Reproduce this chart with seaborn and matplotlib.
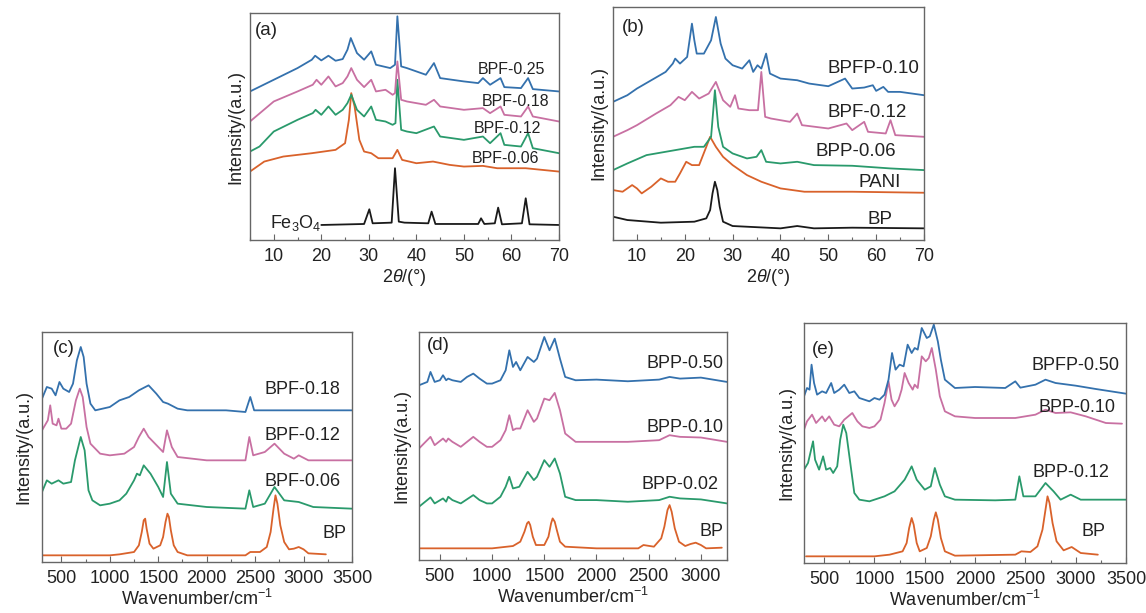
import seaborn as sns
import matplotlib
matplotlib.use('Agg')
import matplotlib.pyplot as plt
from matplotlib.ticker import MultipleLocator

# ---- panel (a): XRD ----
a_bpf025_x = [5, 10, 15, 18, 18.7, 20, 21.5, 23, 24.5, 25.5, 26.2, 27.5, 29, 30.5, 31.5, 33, 34.5, 35.5, 36, 36.8, 38, 40, 42, 43.7, 45, 50, 53, 54, 55.5, 57.7, 58.5, 62, 63.5, 64.5, 70]
a_bpf025_y = [44.5, 48, 51.5, 54, 55.2, 53.8, 55.2, 53.7, 54.2, 57, 60.5, 56, 54, 56.5, 52.5, 52, 51.5, 52.5, 67, 52, 51.5, 50.5, 49.5, 53, 48.5, 47.5, 47, 48.5, 46.5, 48.5, 45.8, 45.5, 48.5, 45.2, 44.5]
a_bpf018_x = [5, 10, 15, 18.2, 19, 20, 21.5, 23, 24.5, 25.5, 26.3, 27.5, 29, 30.5, 31.5, 33.5, 35, 35.5, 36, 36.8, 38, 40, 42, 43.7, 45, 50, 54, 55.5, 57.7, 58.5, 62, 63.5, 64.5, 70]
a_bpf018_y = [35.5, 41.5, 44.5, 46.5, 48, 46.5, 49, 46, 47, 49, 51.5, 48, 45.8, 48, 44.5, 45, 43.5, 44, 53.5, 42, 41.5, 41, 40.5, 42, 40, 39, 39.5, 38, 40, 37.5, 37, 40, 37, 35.5]
a_bpf012_x = [5, 7, 10, 15, 18.2, 18.8, 20, 21.5, 23, 24.5, 25.5, 26.3, 27.5, 29, 30.5, 31.5, 33.5, 35, 35.6, 36, 36.8, 38, 40, 43.7, 45, 50, 54, 55.5, 57.7, 58.5, 62, 63.5, 64.5, 70]
a_bpf012_y = [26.5, 28, 32.5, 36, 38, 39, 37.5, 40, 37.5, 39, 41, 43.5, 39, 37, 40, 36, 35.5, 34.5, 35, 48, 33, 32.5, 32, 34, 31, 30, 31, 29, 32, 28.5, 28, 32, 27.5, 26]
a_bpf006_x = [5, 8, 12, 18, 23, 25, 25.8, 26.3, 27, 28, 29, 30.5, 32, 35, 36, 37, 40, 43.5, 47, 50, 54, 57, 63, 70]
a_bpf006_y = [20.5, 23.5, 25, 26, 27, 29, 36, 44, 40, 30, 26.5, 26, 24.5, 24.5, 27, 24, 23, 23.5, 22.5, 22, 22.2, 21.5, 21.5, 20.5]
a_fe3o4_x = [20, 29, 30.1, 30.8, 34.8, 35.5, 36.3, 37.5, 42.5, 43.2, 44, 53, 53.6, 54.3, 56.5, 57.2, 58, 62.2, 63, 63.8, 70]
a_fe3o4_y = [4.5, 4.8, 9.2, 5, 5.2, 21.5, 5.5, 5.2, 5, 8.5, 4.8, 4.8, 6.5, 4.8, 5, 9.7, 4.7, 5, 12.5, 4.7, 4.5]

# ---- panel (b): XRD ----
b_bpfp010_x = [5, 8, 10, 13, 16, 17.5, 18, 19, 20.5, 21, 21.5, 22, 22.5, 24, 25.5, 26.5, 27.5, 28.5, 30, 32, 33.5, 34.3, 35.2, 36, 37, 37.8, 40, 43.5, 46, 50, 53.5, 55, 57.5, 59.3, 60, 61.5, 62.5, 65, 70]
b_bpfp010_y = [41.5, 43.5, 45.5, 48, 50.5, 53, 54.5, 53, 55, 60, 65, 60, 56, 56, 60, 67, 59, 54.5, 52.5, 51.5, 54, 50.5, 52.5, 51.5, 56, 50, 48.5, 48, 47, 46.2, 48.5, 45.5, 45.8, 46.5, 44.8, 46, 44.5, 44.5, 43.5]
b_bpf012_x = [5, 8, 10, 14, 17, 18.7, 20, 21.5, 23, 25, 26.5, 28, 29.5, 30.5, 31.2, 33.5, 35.3, 36, 36.8, 38, 42, 43.5, 44.5, 50, 53.8, 55, 57.5, 58.3, 62, 63, 64, 70]
b_bpf012_y = [31, 33, 34.5, 38, 40.5, 43, 42, 44.5, 42.5, 44, 47.5, 42, 40, 43.5, 39.5, 39, 39, 50.5, 37, 36.5, 35.5, 38, 34.5, 33.5, 35, 33, 35.5, 32.5, 32, 36, 31.5, 31]
b_bpp006_x = [5, 8, 12, 18, 22, 24, 25.5, 26.3, 27, 28, 30, 33, 35, 36, 37, 40, 43.5, 47, 55, 63, 70]
b_bpp006_y = [21, 23, 25.5, 27, 28, 28, 31, 45, 34, 28, 26, 24.5, 25, 27, 23.5, 23, 23.5, 22.5, 22.3, 21.5, 21]
b_pani_x = [5, 7, 9, 10, 11, 13, 15, 16.5, 18, 19, 20.3, 21.5, 23, 24.5, 25.3, 26.5, 28, 30, 33, 36, 40, 45, 55, 70]
b_pani_y = [15, 14.5, 16.5, 15.5, 14, 16, 18.5, 17.5, 17.5, 20, 23.5, 22.5, 22.5, 28, 31, 28, 25, 22.5, 19.5, 17.5, 15.5, 14.5, 14.5, 14.2]
b_bp_x = [5, 8, 15, 22, 24.5, 25.3, 25.8, 26.3, 26.8, 27.3, 28, 30, 40, 43.5, 47, 55, 70]
b_bp_y = [7, 6, 5.2, 5.5, 6.5, 9, 14, 17.5, 15, 10, 5.5, 4.2, 3.5, 4.2, 3.5, 3.7, 3.5]

# ---- panel (c): Raman ----
c_bpf018_x = [300, 350, 400, 440, 480, 520, 580, 620, 660, 700, 730, 760, 800, 850, 1000, 1100, 1200, 1300, 1400, 1480, 1550, 1600, 1700, 1800, 2200, 2400, 2450, 2490, 2600, 3000, 3500]
c_bpf018_y = [49, 52.5, 52, 50, 54, 52, 51, 53.5, 60.5, 64.5, 61.5, 53.5, 47.5, 45.5, 46.5, 48.5, 49.5, 51.5, 53, 50.5, 48, 47.5, 46, 45.5, 45.5, 45, 49.5, 45.5, 45.5, 45.5, 45.5]
c_bpf012_x = [300, 360, 385, 410, 450, 470, 500, 550, 600, 650, 690, 720, 760, 800, 900, 1000, 1150, 1250, 1300, 1350, 1400, 1500, 1550, 1590, 1640, 1700, 2000, 2400, 2440, 2480, 2600, 2700, 2800, 2900, 2950, 3050, 3500]
c_bpf012_y = [39.5, 42.5, 47, 41.5, 41, 43, 40, 40, 41.5, 48.5, 52, 49.5, 40.5, 35.5, 32.5, 32, 32.5, 34.5, 37.5, 40, 37.5, 34.5, 33, 39.5, 34.5, 31.5, 30.5, 30.5, 37.5, 32, 33, 35.5, 32.5, 31, 32, 30.5, 30.5]
c_bpf006_x = [300, 350, 400, 470, 520, 600, 640, 700, 740, 780, 820, 900, 1000, 1100, 1170, 1250, 1280, 1310, 1350, 1420, 1500, 1550, 1590, 1630, 1700, 2000, 2400, 2440, 2480, 2600, 2700, 2800, 2950, 3100, 3500]
c_bpf006_y = [21, 24.5, 23.5, 24.5, 23.5, 24, 30.5, 37.5, 33.5, 21.5, 18.5, 17, 17.5, 18.5, 20.5, 24.5, 26.5, 26, 29, 26.5, 22.5, 19.5, 30, 20.5, 17.5, 16.5, 16, 21.5, 16.5, 17.5, 22.5, 18.5, 18, 16.5, 16]
c_bp_x = [300, 1000, 1100, 1250, 1300, 1330, 1350, 1365, 1380, 1410, 1450, 1520, 1550, 1575, 1595, 1610, 1630, 1660, 1700, 1800, 2400, 2450, 2550, 2620, 2660, 2690, 2710, 2730, 2760, 2800, 2850, 2900, 2950, 3000, 3050, 3230]
c_bp_y = [2, 2, 2.3, 3, 5, 9, 12.5, 13, 10, 5.5, 4, 5, 7.5, 12, 14.5, 13.5, 9.5, 5, 3, 2, 2, 3, 3, 4.5, 9, 16, 20, 17.5, 11, 6, 3.8, 4, 4.5, 3.8, 2.6, 2.3]

# ---- panel (d): Raman ----
d_bpp050_x = [300, 380, 410, 450, 500, 530, 560, 580, 620, 700, 760, 820, 880, 950, 1000, 1080, 1130, 1165, 1200, 1230, 1270, 1340, 1400, 1430, 1500, 1550, 1600, 1650, 1700, 1800, 2000, 2300, 2600, 2700, 2800, 3000, 3250]
d_bpp050_y = [52.5, 53.5, 56.5, 53.5, 54, 55.5, 54, 54.5, 54, 53.5, 55, 56, 54.5, 53, 53, 54, 57, 63, 58, 59.5, 57, 61, 59.5, 60.5, 67, 63, 66.5, 60.5, 55, 54, 54.2, 53.7, 54.2, 55, 54.5, 54.8, 53.5]
d_bpp010_x = [300, 410, 450, 530, 560, 580, 620, 700, 760, 820, 880, 950, 1000, 1080, 1130, 1165, 1200, 1230, 1270, 1340, 1400, 1430, 1500, 1550, 1600, 1650, 1700, 1800, 2000, 2300, 2600, 2700, 2800, 3000, 3250]
d_bpp010_y = [33.5, 37, 34.5, 36.5, 35.5, 36.5, 35.5, 34, 35.5, 37, 35.5, 34, 34, 36, 39, 43.5, 39, 39.5, 39.5, 45, 41.5, 42.5, 48.5, 48, 50.2, 45, 38, 35.5, 35.5, 35.5, 36, 37.5, 37, 36.8, 35.5]
d_bpp002_x = [300, 410, 450, 530, 560, 580, 620, 700, 820, 880, 950, 1000, 1080, 1130, 1165, 1200, 1260, 1340, 1400, 1430, 1500, 1550, 1600, 1650, 1700, 1800, 2000, 2300, 2600, 2700, 2800, 3000, 3250]
d_bpp002_y = [16, 18.8, 17, 18.5, 17.5, 19, 18, 17, 19.5, 18, 17, 17, 19, 22, 25, 21.5, 22, 26.5, 24, 25, 30, 28, 30.5, 26, 19, 18, 18, 17.5, 18, 19, 18.5, 18.2, 17]
d_bp_x = [300, 1000, 1200, 1270, 1310, 1335, 1350, 1365, 1390, 1420, 1500, 1540, 1565, 1580, 1600, 1620, 1650, 1700, 2000, 2400, 2450, 2550, 2620, 2650, 2680, 2700, 2720, 2750, 2790, 2850, 2900, 2950, 3000, 3050, 3200]
d_bp_y = [3.5, 3.5, 4.2, 5.5, 8.5, 11, 11.5, 10.5, 7, 4.5, 4.5, 7, 11, 12.5, 11.5, 9, 5.5, 4, 3.5, 3.5, 4.5, 4, 6.5, 10, 15, 16.5, 14.5, 9.5, 5.5, 4.2, 4.8, 5.2, 4.5, 3.5, 3.7]

# ---- panel (e): Raman ----
e_bpfp050_x = [300, 330, 355, 375, 400, 430, 480, 520, 570, 600, 650, 700, 750, 800, 850, 950, 1000, 1050, 1100, 1140, 1175, 1210, 1250, 1290, 1330, 1370, 1400, 1430, 1470, 1520, 1550, 1590, 1630, 1660, 1700, 1800, 2000, 2300, 2400, 2450, 2600, 2700, 2800, 3000, 3200, 3500]
e_bpfp050_y = [50, 52.5, 52, 59.5, 54, 50.5, 51.5, 51, 54, 51, 52, 53.5, 51, 51.5, 49.5, 48.5, 49.5, 49, 50.5, 55, 63, 58, 59.5, 59, 65.5, 63, 64.5, 64, 70.5, 67.5, 68, 71.5, 66.5, 61, 55, 52.5, 52.8, 52.5, 54.5, 52.6, 53.5, 55, 54, 53.2, 52.2, 50.8]
e_bpp010_x = [300, 330, 380, 420, 480, 510, 550, 600, 650, 700, 780, 830, 880, 950, 1000, 1060, 1100, 1140, 1170, 1200, 1240, 1270, 1300, 1340, 1380, 1400, 1430, 1470, 1510, 1540, 1570, 1610, 1650, 1700, 1800, 2000, 2400, 2600, 2700, 2800, 2950, 3100, 3300, 3460]
e_bpp010_y = [40, 42.5, 44.5, 42, 44, 42.5, 44, 41.5, 41, 43, 45, 42.5, 41, 40.5, 41, 43, 48, 54.5, 49, 47, 49, 52, 57, 54, 52, 53.5, 52.5, 62, 60.5, 61.5, 64.5, 58, 50, 45.5, 44, 43.5, 43.5, 44.5, 46, 45, 45.2, 44, 42, 41.8]
e_bpp012_x = [300, 340, 390, 410, 450, 490, 520, 560, 590, 630, 660, 690, 720, 760, 800, 850, 950, 1100, 1200, 1300, 1370, 1420, 1500, 1560, 1600, 1650, 1700, 1800, 2200, 2400, 2440, 2480, 2600, 2700, 2780, 2850, 2950, 3050, 3500]
e_bpp012_y = [28, 30, 36.5, 31, 28, 32, 28, 28.5, 27, 29, 37, 41.5, 39, 30, 21, 19, 18.5, 20, 21.5, 25, 29, 25, 22, 23, 28.5, 23.5, 20, 19, 18.8, 19, 26, 20, 20, 24, 21.5, 19, 20.5, 19, 19]
e_bp_x = [320, 1000, 1150, 1280, 1320, 1345, 1370, 1390, 1420, 1450, 1520, 1560, 1590, 1610, 1630, 1660, 1700, 1800, 2400, 2460, 2550, 2620, 2670, 2700, 2720, 2740, 2770, 2810, 2880, 2960, 3050, 3220]
e_bp_y = [2, 2, 2.5, 3.5, 6, 10.5, 13.5, 11.5, 6, 3.5, 4.5, 8, 13, 15.2, 13, 7.5, 3.5, 2.2, 2.5, 3.5, 3.3, 5, 10, 16, 20, 18, 12, 6.5, 3.8, 4.8, 3, 2.5]

BLUE = '#3471ad'
PINK = '#c870a2'
GREEN = '#2a9a6c'
ORANGE = '#d9622b'
BLACK = '#1a1a1a'
TXT = '#222222'
EDGE = '#666666'

sns.set_theme(style='ticks')
plt.rcParams['font.family'] = ['Liberation Sans', 'DejaVu Sans']
plt.rcParams['mathtext.fontset'] = 'custom'
plt.rcParams['mathtext.rm'] = 'Liberation Sans'
plt.rcParams['mathtext.it'] = 'Liberation Sans:italic'

fig = plt.figure(figsize=(11.46, 6.13), dpi=100)
W, H = 1146.0, 613.0


def make_axes(left, top, right, bottom):
    return fig.add_axes([left / W, 1 - bottom / H, (right - left) / W, (bottom - top) / H])


def draw(ax, xs, ys, color):
    sns.lineplot(x=xs, y=ys, ax=ax, color=color, linewidth=1.3, sort=False, estimator=None)


def style(ax, xlim, ylim, major, minor, xlabel, ylabelpad=4):
    ax.set_xlim(xlim)
    ax.set_ylim(ylim)
    ax.set_yticks([])
    ax.xaxis.set_major_locator(MultipleLocator(major))
    ax.xaxis.set_minor_locator(MultipleLocator(minor))
    ax.tick_params(axis='x', which='major', direction='in', length=4, width=0.8,
                   pad=6, labelsize=13, color=EDGE, labelcolor=TXT)
    ax.tick_params(axis='x', which='minor', direction='in', length=2.5, width=0.8, color=EDGE)
    for s in ax.spines.values():
        s.set_visible(True)
        s.set_color(EDGE)
        s.set_linewidth(1)
    ax.set_xlabel(xlabel, fontsize=13, color=TXT, labelpad=1)
    ax.set_ylabel('Intensity/(a.u.)', fontsize=13, color=TXT, labelpad=ylabelpad)


def label(ax, fx, fy, s, size):
    ax.text(fx, fy, s, transform=ax.transAxes, fontsize=size, color=TXT, ha='left', va='center')


xrd_label = r'2$\theta$/(°)'
raman_label = r'Wavenumber/cm$^{-1}$'

# (a)
ax = make_axes(250, 13, 559, 240)
draw(ax, a_fe3o4_x, a_fe3o4_y, BLACK)
draw(ax, a_bpf006_x, a_bpf006_y, ORANGE)
draw(ax, a_bpf012_x, a_bpf012_y, GREEN)
draw(ax, a_bpf018_x, a_bpf018_y, PINK)
draw(ax, a_bpf025_x, a_bpf025_y, BLUE)
style(ax, (5, 70), (0, 68), 10, 5, xrd_label)
label(ax, 0.016, 0.925, '(a)', 13.5)
label(ax, 0.738, 0.749, 'BPF-0.25', 11.5)
label(ax, 0.751, 0.612, 'BPF-0.18', 11.5)
label(ax, 0.725, 0.489, 'BPF-0.12', 11.5)
label(ax, 0.718, 0.361, 'BPF-0.06', 11.5)
label(ax, 0.065, 0.075, r'Fe$_3$O$_4$', 13)

# (b)
ax = make_axes(613, 7, 924, 240)
draw(ax, b_bp_x, b_bp_y, BLACK)
draw(ax, b_pani_x, b_pani_y, ORANGE)
draw(ax, b_bpp006_x, b_bpp006_y, GREEN)
draw(ax, b_bpf012_x, b_bpf012_y, PINK)
draw(ax, b_bpfp010_x, b_bpfp010_y, BLUE)
style(ax, (5, 70), (0, 70), 10, 5, xrd_label)
label(ax, 0.029, 0.914, '(b)', 13.5)
label(ax, 0.691, 0.734, 'BPFP-0.10', 13.5)
label(ax, 0.691, 0.549, 'BPF-0.12', 13.5)
label(ax, 0.650, 0.378, 'BPP-0.06', 13.5)
label(ax, 0.788, 0.245, 'PANI', 13.5)
label(ax, 0.817, 0.086, 'BP', 13.5)

# (c)
ax = make_axes(42, 332, 352, 562)
draw(ax, c_bp_x, c_bp_y, ORANGE)
draw(ax, c_bpf006_x, c_bpf006_y, GREEN)
draw(ax, c_bpf012_x, c_bpf012_y, PINK)
draw(ax, c_bpf018_x, c_bpf018_y, BLUE)
style(ax, (300, 3500), (0, 69), 500, 250, raman_label, ylabelpad=7)
label(ax, 0.035, 0.930, '(c)', 13.5)
label(ax, 0.719, 0.748, 'BPF-0.18', 13)
label(ax, 0.719, 0.552, 'BPF-0.12', 13)
label(ax, 0.719, 0.348, 'BPF-0.06', 13)
label(ax, 0.906, 0.126, 'BP', 13)

# (d)
ax = make_axes(419, 332, 727, 560)
draw(ax, d_bp_x, d_bp_y, ORANGE)
draw(ax, d_bpp002_x, d_bpp002_y, GREEN)
draw(ax, d_bpp010_x, d_bpp010_y, PINK)
draw(ax, d_bpp050_x, d_bpp050_y, BLUE)
style(ax, (300, 3250), (0, 68.5), 500, 250, raman_label, ylabelpad=6)
label(ax, 0.026, 0.939, '(d)', 13.5)
label(ax, 0.740, 0.864, 'BPP-0.50', 13)
label(ax, 0.740, 0.579, 'BPP-0.10', 13)
label(ax, 0.724, 0.333, 'BPP-0.02', 13)
label(ax, 0.912, 0.123, 'BP', 13)

# (e)
ax = make_axes(804, 323, 1126, 563)
draw(ax, e_bp_x, e_bp_y, ORANGE)
draw(ax, e_bpp012_x, e_bpp012_y, GREEN)
draw(ax, e_bpp010_x, e_bpp010_y, PINK)
draw(ax, e_bpfp050_x, e_bpfp050_y, BLUE)
style(ax, (300, 3500), (0, 72), 500, 250, raman_label, ylabelpad=6)
label(ax, 0.025, 0.8875, '(e)', 13.5)
label(ax, 0.708, 0.825, 'BPFP-0.50', 13)
label(ax, 0.727, 0.650, 'BPP-0.10', 13)
label(ax, 0.711, 0.379, 'BPP-0.12', 13)
label(ax, 0.863, 0.133, 'BP', 13)

fig.savefig('out.png', dpi=100, facecolor='white')
plt.close(fig)
